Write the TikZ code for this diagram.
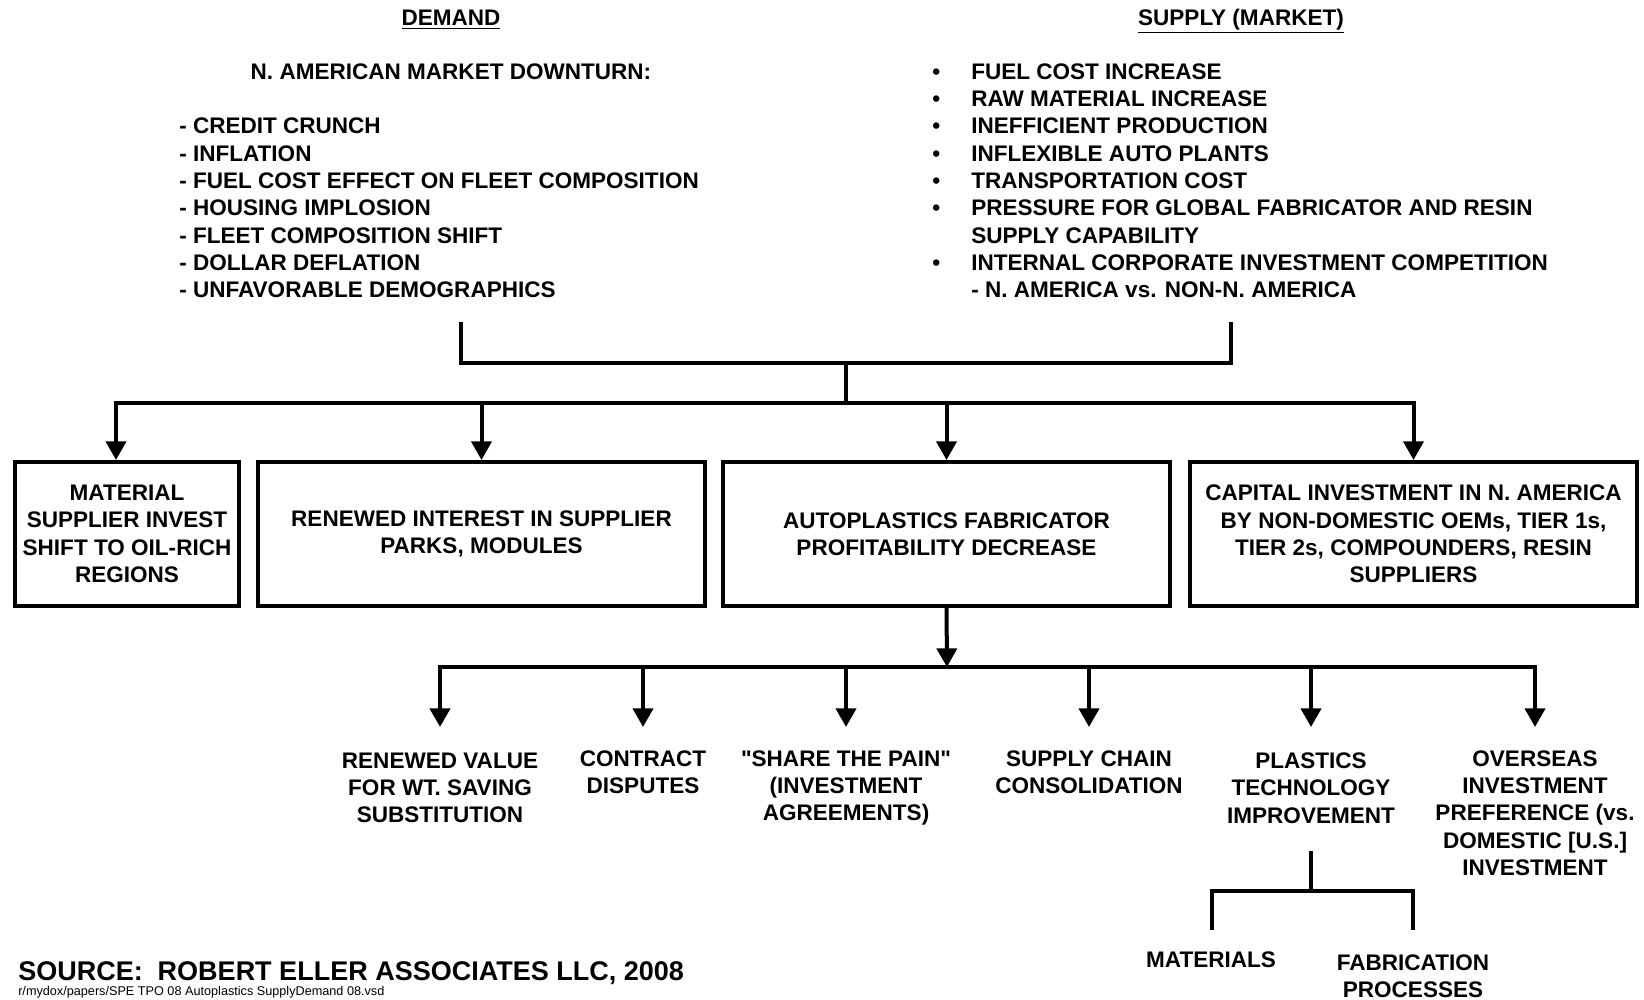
\documentclass[tikz,border=0pt]{standalone}
\usepackage{fontspec}
\setmainfont{Liberation Sans}
\usetikzlibrary{arrows.meta}
\newcommand{\sq}{\XeTeXglyph\XeTeXcharglyph"22\relax}
\begin{document}
\begin{tikzpicture}[x=0.75pt,y=-0.75pt,
  txt/.style={font=\bfseries\fontsize{16.9}{20.5}\selectfont, inner sep=0pt, align=center},
  box/.style={txt, draw, line width=3pt, minimum height=108pt},
  ln/.style={line width=3pt, line join=miter},
  ar/.style={ln, -{Triangle[width=15pt,length=14pt]}},
  arboth/.style={ln, {Triangle[width=15pt,length=14pt]}-{Triangle[width=15pt,length=14pt]}}]
\fill[white] (0,0) rectangle (1644,999);
\useasboundingbox (0,0) rectangle (1644,999);

% headings
\node[txt, anchor=base] (demh) at (451,26) {\underline{DEMAND}};
\node[txt, anchor=base] (suph) at (1241,26) {\underline{SUPPLY (MARKET)}};
\node[txt] (nam) at (451,72) {N. AMERICAN MARKET DOWNTURN:};
\node[txt, align=left, anchor=west] (demlist) at (179,208) {- CREDIT CRUNCH\\- INFLATION\\- FUEL COST EFFECT ON FLEET COMPOSITION\\- HOUSING IMPLOSION\\- FLEET COMPOSITION SHIFT\\- DOLLAR DEFLATION\\- UNFAVORABLE DEMOGRAPHICS};
\node[txt, align=left, anchor=west] (suplist) at (932,183) {\begin{tabular}{@{}p{29.25pt}@{}l@{}}
•&FUEL COST INCREASE\\
•&RAW MATERIAL INCREASE\\
•&INEFFICIENT PRODUCTION\\
•&INFLEXIBLE AUTO PLANTS\\
•&TRANSPORTATION COST\\
•&PRESSURE FOR GLOBAL FABRICATOR AND RESIN\\
&SUPPLY CAPABILITY\\
•&INTERNAL CORPORATE INVESTMENT COMPETITION\\
&- N. AMERICA vs. NON-N. AMERICA
\end{tabular}};

% boxes
\node[box, minimum width=168pt] (box1) at (127,534) {MATERIAL\\SUPPLIER INVEST\\SHIFT TO OIL-RICH\\REGIONS};
\node[box, minimum width=335.25pt] (box2) at (481.5,534) {RENEWED INTEREST IN SUPPLIER\\PARKS, MODULES};
\node[box, minimum width=335.25pt] (box3) at (946.5,534) {AUTOPLASTICS FABRICATOR\\PROFITABILITY DECREASE};
\node[box, minimum width=335.25pt] (box4) at (1413.5,534) {CAPITAL INVESTMENT IN N. AMERICA\\BY NON-DOMESTIC OEMs, TIER 1s,\\TIER 2s, COMPOUNDERS, RESIN\\SUPPLIERS};

% top connectors
\coordinate (dj) at (461,322);
\coordinate (sj) at (1231,322);
\coordinate (mj) at (846,363);
\coordinate (bar1) at (846,403);
\coordinate (a1) at (116,462);
\draw[ln] (dj) |- (mj) -| (sj);
\draw[ln] (mj) -- (bar1);
\draw[arboth] (a1 |- box1.north) |- (bar1) -| (box4.north);
\draw[ar] (box2.north |- bar1) -- (box2.north);
\draw[ar] (box3.north |- bar1) -- (box3.north);

% bottom texts
\node[txt] (v1) at (440,788) {RENEWED VALUE\\FOR WT. SAVING\\SUBSTITUTION};
\node[txt] (v2) at (643,772) {CONTRACT\\DISPUTES};
\node[txt] (v3) at (846,788) {\sq SHARE THE PAIN\sq\\(INVESTMENT\\AGREEMENTS)};
\node[txt] (v4) at (1089,772) {SUPPLY CHAIN\\CONSOLIDATION};
\node[txt] (v5) at (1311,788) {PLASTICS\\TECHNOLOGY\\IMPROVEMENT};
\node[txt] (v6) at (1535,813) {OVERSEAS\\INVESTMENT\\PREFERENCE (vs.\\DOMESTIC [U.S.]\\INVESTMENT};
\node[txt] (mat) at (1211,960) {MATERIALS};
\node[txt] (fab) at (1413,976) {FABRICATION\\PROCESSES};

% bottom connectors
\coordinate (b2) at (947,667);
\coordinate (t1) at (440,727);
\coordinate (t2) at (643,727);
\coordinate (t3) at (846,727);
\coordinate (t4) at (1089,727);
\coordinate (t5) at (1311,727);
\coordinate (t6) at (1535,727);
\draw[ar] (box3.south) -- (b2);
\draw[arboth] (t1) |- (b2) -| (t6);
\draw[ar] (t2 |- b2) -- (t2);
\draw[ar] (t3 |- b2) -- (t3);
\draw[ar] (t4 |- b2) -- (t4);
\draw[ar] (t5 |- b2) -- (t5);

\coordinate (p0) at (1311,851);
\coordinate (p1) at (1311,891);
\coordinate (m1) at (1212,930);
\coordinate (f1) at (1413,930);
\draw[ln] (p0) -- (p1);
\draw[ln] (m1) |- (p1) -| (f1);

% source
\node[font=\bfseries\fontsize{20.25}{24}\selectfont, inner sep=0pt, anchor=west] (src) at (18,973) {SOURCE:\ \ ROBERT ELLER ASSOCIATES LLC, 2008};
\node[font=\fontsize{9.5}{11}\selectfont, inner sep=0pt, anchor=base west] (path) at (18,995) {r/mydox/papers/SPE TPO 08 Autoplastics SupplyDemand 08.vsd};
\end{tikzpicture}
\end{document}
